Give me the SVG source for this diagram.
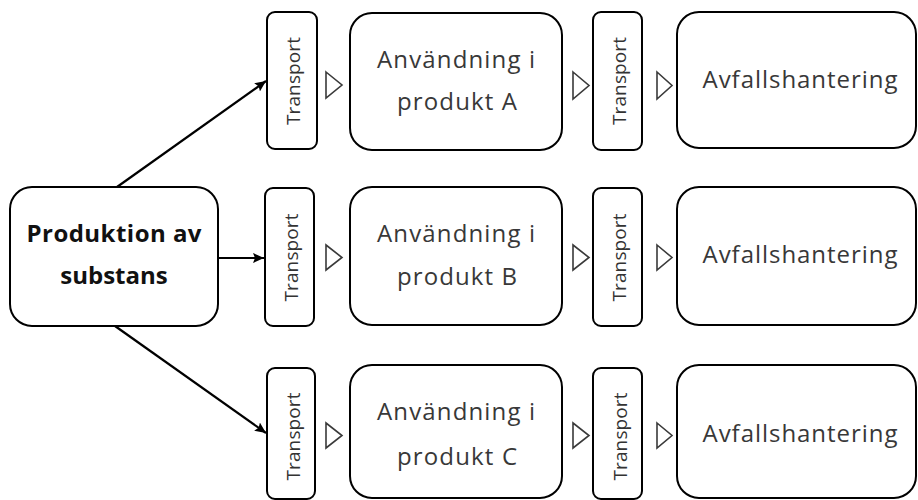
<svg xmlns="http://www.w3.org/2000/svg" width="918" height="500" viewBox="0 0 918 500">
  <defs>
    <marker id="arrow" viewBox="0 0 11 10" refX="11" refY="5" markerWidth="11" markerHeight="10" markerUnits="userSpaceOnUse" orient="auto">
      <path d="M0,0 L11,5 L0,10 L2,5 Z" fill="#000"/>
    </marker>
    <style>
      .box { fill: #fff; stroke: #000; stroke-width: 2; }
      .tri { fill: #fff; stroke: #3a3a3a; stroke-width: 1.6; stroke-linejoin: miter; }
      .lbl { font-family: "Open Sans", "Liberation Sans", sans-serif; font-size: 24px; fill: #383838; text-anchor: middle; }
      .bold { font-weight: bold; fill: #111; }
      .tr { font-family: "Open Sans", "Liberation Sans", sans-serif; font-size: 19px; fill: #333; text-anchor: middle; }
      .conn { stroke: #000; stroke-width: 2.2; fill: none; }
    </style>
  </defs>
  <rect width="918" height="500" fill="#fff"/>

  <!-- source node -->
  <g id="produktion">
    <rect class="box" x="10" y="187" width="208" height="139" rx="22"/>
    <text class="lbl bold" x="114" y="242" textLength="175">Produktion av</text>
    <text class="lbl bold" x="114" y="284">substans</text>
  </g>

  <!-- connectors from the source node -->
  <g id="connectors">
    <line class="conn" x1="117" y1="187" x2="266" y2="81" marker-end="url(#arrow)"/>
    <line class="conn" x1="218" y1="258" x2="264" y2="258" marker-end="url(#arrow)"/>
    <line class="conn" x1="115" y1="326" x2="266" y2="433" marker-end="url(#arrow)"/>
    <!-- open flow triangles between stages -->
    <path class="tri" d="M326,72 L342,85 L326,98 Z"/>
    <path class="tri" d="M573,72 L589,85.5 L573,99 Z"/>
    <path class="tri" d="M657,72 L672,85.5 L657,99 Z"/>
    <path class="tri" d="M326,245 L342,257.5 L326,270 Z"/>
    <path class="tri" d="M573,245 L589,257.5 L573,270 Z"/>
    <path class="tri" d="M657,245 L672,257.5 L657,270 Z"/>
    <path class="tri" d="M326,423 L342,435.5 L326,448 Z"/>
    <path class="tri" d="M573,423 L589,435.5 L573,448 Z"/>
    <path class="tri" d="M657,423 L672,435.5 L657,448 Z"/>
  </g>

  <!-- row A -->
  <g id="transport-a1">
    <rect class="box" x="267" y="12" width="50" height="137" rx="8"/>
    <text class="tr" transform="translate(300,81) rotate(-90)" textLength="88">Transport</text>
  </g>
  <g id="anvandning-a">
    <rect class="box" x="350" y="13" width="212" height="137" rx="22"/>
    <text class="lbl" x="456" y="68" textLength="158">Användning i</text>
    <text class="lbl" x="457" y="110" textLength="120">produkt A</text>
  </g>
  <g id="transport-a2">
    <rect class="box" x="593" y="12" width="49" height="138" rx="8"/>
    <text class="tr" transform="translate(626,81) rotate(-90)" textLength="88">Transport</text>
  </g>
  <g id="avfall-a">
    <rect class="box" x="677" y="12" width="239" height="136" rx="22"/>
    <text class="lbl" x="800" y="88" textLength="195">Avfallshantering</text>
  </g>

  <!-- row B -->
  <g id="transport-b1">
    <rect class="box" x="265" y="188" width="49" height="138" rx="8"/>
    <text class="tr" transform="translate(298,257.5) rotate(-90)" textLength="88">Transport</text>
  </g>
  <g id="anvandning-b">
    <rect class="box" x="350" y="187" width="212" height="138" rx="22"/>
    <text class="lbl" x="456" y="242" textLength="158">Användning i</text>
    <text class="lbl" x="457" y="285" textLength="120">produkt B</text>
  </g>
  <g id="transport-b2">
    <rect class="box" x="593" y="188" width="49" height="138" rx="8"/>
    <text class="tr" transform="translate(626,257.5) rotate(-90)" textLength="88">Transport</text>
  </g>
  <g id="avfall-b">
    <rect class="box" x="677" y="187" width="239" height="138" rx="22"/>
    <text class="lbl" x="800" y="263" textLength="195">Avfallshantering</text>
  </g>

  <!-- row C -->
  <g id="transport-c1">
    <rect class="box" x="267" y="368" width="48" height="131" rx="8"/>
    <text class="tr" transform="translate(300,436.5) rotate(-90)" textLength="88">Transport</text>
  </g>
  <g id="anvandning-c">
    <rect class="box" x="350" y="365" width="212" height="133" rx="22"/>
    <text class="lbl" x="456" y="420" textLength="158">Användning i</text>
    <text class="lbl" x="457" y="465" textLength="120">produkt C</text>
  </g>
  <g id="transport-c2">
    <rect class="box" x="593" y="368" width="49" height="131" rx="8"/>
    <text class="tr" transform="translate(627,436.5) rotate(-90)" textLength="88">Transport</text>
  </g>
  <g id="avfall-c">
    <rect class="box" x="677" y="365" width="239" height="133" rx="22"/>
    <text class="lbl" x="800" y="442" textLength="195">Avfallshantering</text>
  </g>
</svg>
